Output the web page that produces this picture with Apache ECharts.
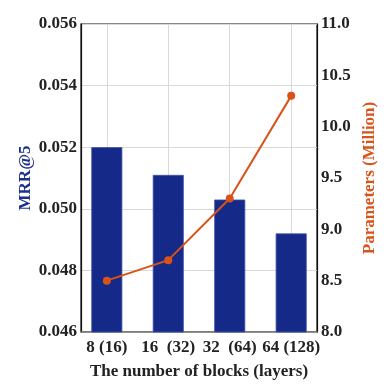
<!DOCTYPE html>
<html>
<head>
<meta charset="utf-8">
<script src="https://cdn.jsdelivr.net/npm/echarts@6/dist/echarts.min.js"></script>
<style>
html, body { margin: 0; padding: 0; background: #fff; }
#chart { width: 390px; height: 390px; }
</style>
</head>
<body>
<div id="chart"></div>
<script>
// data
var categories = ['8 (16)', '16  (32)', '32  (64)', '64 (128)'];
var mrrValues = [0.0520, 0.0511, 0.0503, 0.0492];
var paramValues = [8.5, 8.7, 9.3, 10.3];

var FONT = 'Liberation Serif';
var barColor = '#152a88';
var lineColor = '#d95319';

function initChart() {
    var chart = echarts.init(document.getElementById('chart'), null, {renderer: 'canvas'});

    // x positions 1..4 on a value axis padded by 0.42 of a step on each side
    var xMin = 0.58, xMax = 4.42;
    var gLeft = 81, gRight = 73, gWidth = 390 - gLeft - gRight;
    var unit = gWidth / (xMax - xMin);
    // second grid whose edges sit on the first and last category
    var g2Left = gLeft + (1 - xMin) * unit;
    var g2Right = gRight + (xMax - categories.length) * unit;

    var barData = mrrValues.map(function (v, i) { return [i + 1, v]; });
    var lineData = paramValues.map(function (v, i) { return [i + 1, v]; });

    var labelFont = {fontFamily: FONT, fontWeight: 'bold', fontSize: 17, color: '#222'};

    chart.setOption({
        animation: false,
        backgroundColor: '#fff',
        grid: [{
            left: gLeft, right: gRight, top: 24, bottom: 58,
            show: true,
            borderColor: '#111',
            borderWidth: 1.2
        }, {
            left: g2Left, right: g2Right, top: 24, bottom: 58
        }],
        xAxis: [{
            type: 'value',
            gridIndex: 0,
            min: xMin,
            max: xMax,
            name: 'The number of blocks (layers)',
            nameLocation: 'middle',
            nameGap: 31,
            nameMoveOverlap: false,
            nameTextStyle: labelFont,
            axisLine: {lineStyle: {color: '#7a7a7a', width: 1.5}},
            axisTick: {show: false},
            splitLine: {show: false},
            axisLabel: {show: false}
        }, {
            type: 'category',
            gridIndex: 1,
            boundaryGap: false,
            data: categories,
            axisLine: {show: false},
            axisTick: {show: false},
            splitLine: {show: true, lineStyle: {color: '#d9d9d9', width: 1}},
            axisLabel: Object.assign({margin: 7, interval: 0}, labelFont)
        }],
        yAxis: [{
            type: 'value',
            gridIndex: 0,
            min: 0.046,
            max: 0.056,
            interval: 0.002,
            name: 'MRR@5',
            nameLocation: 'middle',
            nameRotate: 90,
            nameGap: 47,
            nameMoveOverlap: false,
            nameTextStyle: {fontFamily: FONT, fontWeight: 'bold', fontSize: 17, color: '#1c2f8c'},
            axisLine: {show: true, lineStyle: {color: '#111', width: 1.2}},
            axisTick: {show: false},
            splitLine: {show: true, lineStyle: {color: '#d9d9d9', width: 1}},
            axisLabel: Object.assign({margin: 4, formatter: function (v) { return v.toFixed(3); }}, labelFont)
        }, {
            type: 'value',
            gridIndex: 0,
            position: 'right',
            min: 8,
            max: 11,
            interval: 0.5,
            name: 'Parameters (Million)',
            nameLocation: 'middle',
            nameRotate: 90,
            nameGap: 44,
            nameMoveOverlap: false,
            nameTextStyle: {fontFamily: FONT, fontWeight: 'bold', fontSize: 17, color: '#d9541a'},
            axisLine: {show: true, lineStyle: {color: '#111', width: 1.2}},
            axisTick: {show: false},
            splitLine: {show: false},
            axisLabel: Object.assign({margin: 4, formatter: function (v) { return v.toFixed(1); }}, labelFont)
        }, {
            type: 'value',
            gridIndex: 1,
            show: false,
            min: 0,
            max: 1
        }],
        series: [{
            name: 'MRR@5',
            type: 'bar',
            xAxisIndex: 0,
            yAxisIndex: 0,
            barWidth: 31,
            itemStyle: {color: barColor, borderColor: '#3f51a8', borderWidth: 0.8},
            data: barData
        }, {
            name: 'Parameters',
            type: 'line',
            xAxisIndex: 0,
            yAxisIndex: 1,
            symbol: 'circle',
            symbolSize: 8,
            itemStyle: {color: lineColor},
            lineStyle: {color: lineColor, width: 2},
            data: lineData
        }]
    });
}

initChart();
</script>
</body>
</html>
